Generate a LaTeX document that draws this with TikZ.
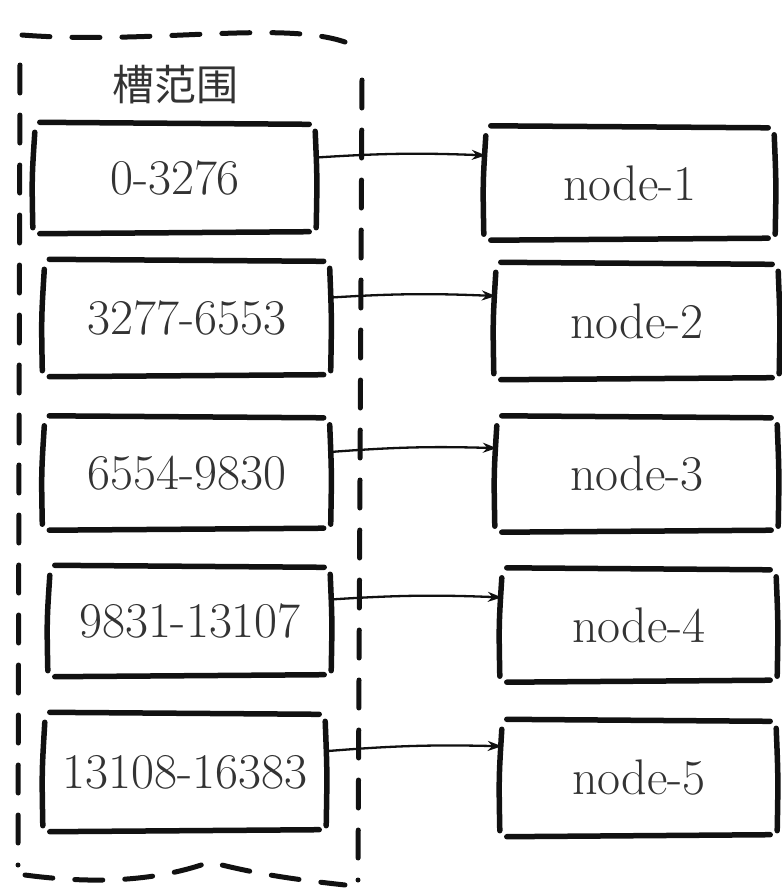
\documentclass[tikz,border=0pt]{standalone}
\usepackage{fontspec}
\newfontfamily\cjk{Noto Sans CJK SC}
\usetikzlibrary{calc,arrows.meta}
\definecolor{ink}{HTML}{111111}
\definecolor{txt}{HTML}{333333}
\newcommand\skbox[1]{%
  \draw[sk] ($(#1.north west)+(5,-2)$) -- ($(#1.north east)+(-6,0)$);
  \draw[sk] ($(#1.south west)+(5,2)$) -- ($(#1.south east)+(-6,0)$);
  \draw[sk] ($(#1.north west)+(0,8)$) .. controls ($(#1.west)+(-3,0)$) .. ($(#1.south west)+(-2,-4)$);
  \draw[sk] ($(#1.north east)+(0,7)$) .. controls ($(#1.east)+(2,0)$) .. ($(#1.south east)+(1,-4)$);
}
\begin{document}
\begin{tikzpicture}[x=1pt,y=-1pt,
  sk/.style={draw=ink,line width=5.5pt,line cap=round},
  cell/.style={draw=none,inner sep=0pt,text=txt,font=\fontsize{50}{54}\selectfont},
  dsh/.style={draw=ink,line width=5pt,line cap=round,dash pattern=on 28pt off 22pt},
  arr/.style={draw=ink,line width=2.3pt,-{Stealth[length=14pt,width=10pt]}}]
\useasboundingbox (0,0) rectangle (782,895);
% container
\draw[dsh] (22,35) .. controls (150,45) and (280,20) .. (345,42);
\draw[dsh] (20,65) -- (18,865);
\draw[dsh] (362,80) -- (358,880);
\draw[dsh] (25,875) .. controls (100,885) and (160,880) .. (210,862) .. controls (260,875) and (300,880) .. (345,885);
\node[text=txt,font=\cjk\fontsize{42}{46}\selectfont] (title) at (175,85) {槽范围};
% left cells
\node[cell,minimum width=280pt,minimum height=107pt] (l1) at (175,178) {0-3276};
\node[cell,minimum width=285pt,minimum height=113pt] (l2) at (187,318) {3277-6553};
\node[cell,minimum width=285pt,minimum height=110pt] (l3) at (187,473) {6554-9830};
\node[cell,minimum width=280pt,minimum height=107pt] (l4) at (190,621) {9831-13107};
\node[cell,minimum width=280pt,minimum height=115pt] (l5) at (185,772) {13108-16383};
% right cells
\node[cell,minimum width=288pt,minimum height=110pt] (r1) at (630,183) {node-1};
\node[cell,minimum width=282pt,minimum height=113pt] (r2) at (637,321) {node-2};
\node[cell,minimum width=280pt,minimum height=112pt] (r3) at (637,474) {node-3};
\node[cell,minimum width=274pt,minimum height=110pt] (r4) at (639,625) {node-4};
\node[cell,minimum width=274pt,minimum height=113pt] (r5) at (639,778) {node-5};
\foreach \n in {l1,l2,l3,l4,l5,r1,r2,r3,r4,r5}{\skbox{\n}}
% arrows
\draw[arr] ($(l1.north east)!0.31!(l1.south east)$) to[bend left=3] ($(r1.north west)!0.25!(r1.south west)$);
\draw[arr] ($(l2.north east)!0.32!(l2.south east)$) to[bend left=3] ($(r2.north west)!0.28!(r2.south west)$);
\draw[arr] ($(l3.north east)!0.31!(l3.south east)$) to[bend left=3] ($(r3.north west)!0.27!(r3.south west)$);
\draw[arr] ($(l4.north east)!0.30!(l4.south east)$) to[bend left=3] ($(r4.north west)!0.25!(r4.south west)$);
\draw[arr] ($(l5.north east)!0.32!(l5.south east)$) to[bend left=3] ($(r5.north west)!0.22!(r5.south west)$);
\end{tikzpicture}
\end{document}
